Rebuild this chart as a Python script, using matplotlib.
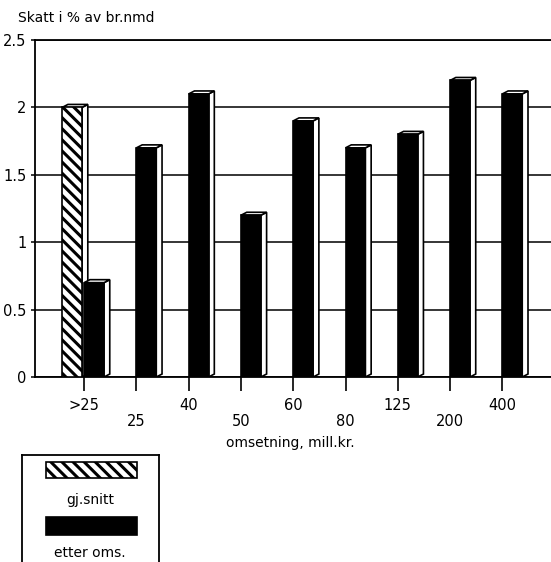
import matplotlib
matplotlib.use("Agg")
import matplotlib.pyplot as plt
from matplotlib.patches import Polygon, Rectangle
import numpy as np

# Data
categories = [">25", "25", "40", "50", "60", "80", "125", "200", "400"]
gjsnitt = [2.0, None, None, None, None, None, None, None, None]
etter_oms = [0.7, 1.7, 2.1, 1.2, 1.9, 1.7, 1.8, 2.2, 2.1]
y_ticks = [0, 0.5, 1, 1.5, 2, 2.5]
y_tick_labels = ["0", "0.5", "1", "1.5", "2", "2.5"]

plt.rcParams["font.family"] = ["DejaVu Sans"]
plt.rcParams["hatch.linewidth"] = 2.2

fig = plt.figure(figsize=(5.51, 5.62), dpi=100)
ax = fig.add_axes([35 / 551, 1 - 377 / 562, 1 - 35 / 551, 337 / 562])

x = np.arange(len(categories))
width = 0.38
dx, dy = 0.11, 0.022  # depth of the pseudo-3D faces in data units


def draw_box(ax, left, height, hatch=None):
    face = "white" if hatch else "black"
    # side face
    side = Polygon([(left + width, 0), (left + width + dx, dy),
                    (left + width + dx, height + dy), (left + width, height)],
                   closed=True, facecolor="white", edgecolor="black", lw=1.2, zorder=3)
    top = Polygon([(left, height), (left + dx, height + dy),
                   (left + width + dx, height + dy), (left + width, height)],
                  closed=True, facecolor="white", edgecolor="black", lw=1.2, zorder=3)
    ax.add_patch(side)
    ax.add_patch(top)
    ax.bar(left, height, width=width, align="edge", color=face, hatch=hatch,
           edgecolor="black", lw=1.2, zorder=4)


for xi, v in zip(x, gjsnitt):
    if v is not None:
        draw_box(ax, xi - 0.42, v, hatch="\\\\\\")
for xi, v in zip(x, etter_oms):
    draw_box(ax, xi, v)

ax.set_xlim(-0.94, 8.93)
ax.set_ylim(0, 2.5)
ax.set_yticks(y_ticks)
ax.set_yticklabels(y_tick_labels, fontsize=10.5)
ax.yaxis.grid(True, color="black", lw=1.1, zorder=0)
ax.set_axisbelow(True)
ax.tick_params(axis="y", length=3, width=1.1, pad=3)

ax.set_xticks(x)
ax.set_xticklabels([])
ax.tick_params(axis="x", length=10, width=1.2, direction="out")
for i, lab in enumerate(categories):
    yoff = -0.215 if i % 2 == 0 else -0.33
    ax.text(i, yoff, lab, ha="center", va="center", fontsize=10.5,
            transform=ax.get_xaxis_transform() if False else ax.transData)

for s in ["left", "top", "bottom"]:
    ax.spines[s].set_linewidth(1.3)
ax.spines["right"].set_visible(False)

fig.text(290 / 551, 1 - 443 / 562, "omsetning, mill.kr.", ha="center", va="center", fontsize=10)
fig.text(18 / 551, 1 - 18 / 562, "Skatt i % av br.nmd", ha="left", va="center", fontsize=10)

# Legend box
lg = fig.add_axes([22 / 551, 0, (159 - 22) / 551, 1 - 455 / 562])
lg.set_xlim(0, 137)
lg.set_ylim(107, 0)
lg.set_xticks([])
lg.set_yticks([])
for s in ["left", "top", "right"]:
    lg.spines[s].set_linewidth(1.3)
lg.spines["bottom"].set_visible(False)
lg.add_patch(Rectangle((24, 7), 91, 16, facecolor="white", edgecolor="black",
                       hatch="\\\\\\", lw=1.2))
lg.text(68, 45, "gj.snitt", ha="center", va="center", fontsize=10)
lg.add_patch(Rectangle((24, 62), 91, 18, facecolor="black", edgecolor="black", lw=1.2))
lg.text(68, 98, "etter oms.", ha="center", va="center", fontsize=10)

fig.savefig("out.png", dpi=100)
